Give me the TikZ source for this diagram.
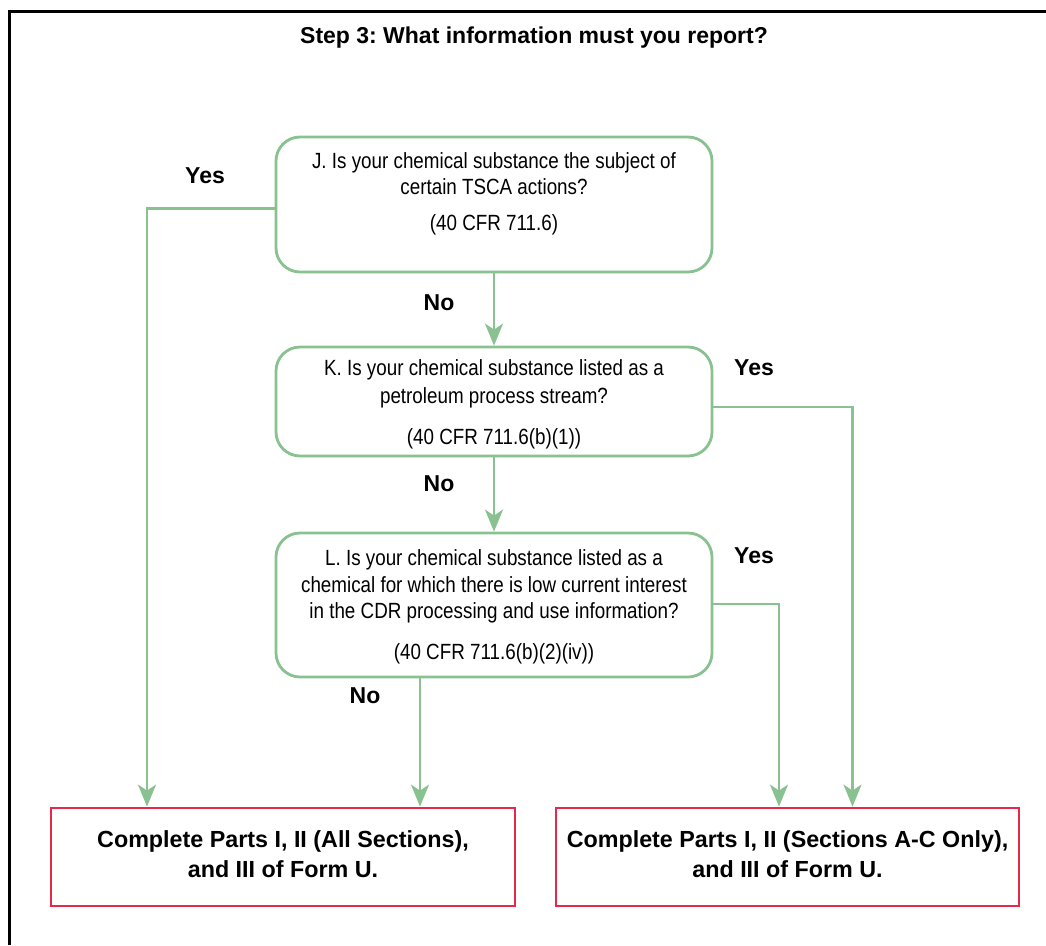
\documentclass[tikz,border=0pt]{standalone}
\usepackage{fontspec}
\setmainfont{Liberation Sans}
\newfontfamily\condfont[FakeStretch=0.855]{Liberation Sans}
\usetikzlibrary{arrows.meta}
\frenchspacing
\definecolor{qgreen}{RGB}{137,193,145}
\definecolor{ared}{RGB}{230,40,75}
\tikzset{
  qbox/.style={draw=qgreen, line width=2.8pt, rounded corners=24pt},
  abox/.style={draw=ared, line width=2.8pt},
  qtext/.style={anchor=base, inner sep=0pt, font=\condfont\fontsize{22}{26}\selectfont},
  atext/.style={anchor=base, inner sep=0pt, font=\bfseries\fontsize{23.3}{27}\selectfont},
  lbl/.style={anchor=base, inner sep=0pt, font=\bfseries\fontsize{23}{27}\selectfont},
  conn/.style={draw=qgreen, line width=2.6pt, -{Stealth[length=22pt,width=18pt,inset=6pt]}},
}
\begin{document}
\begin{tikzpicture}[x=1pt,y=-1pt]
\useasboundingbox (0,0) rectangle (1046,945);
% frame
\draw[line width=3pt] (9.5,945) -- (9.5,11) -- (1046,11);
% title
\node[anchor=base, inner sep=0pt, font=\bfseries\fontsize{23}{27}\selectfont] (title) at (534,43) {Step 3: What information must you report?};
% boxes
\node[qbox, minimum width=436pt, minimum height=135pt] (J) at (494,204.5) {};
\node[qbox, minimum width=436pt, minimum height=109pt] (K) at (494,401.5) {};
\node[qbox, minimum width=436pt, minimum height=144pt] (L) at (494,605) {};
\node[abox, minimum width=464pt, minimum height=98pt] (A) at (283,857) {};
\node[abox, minimum width=463pt, minimum height=98pt] (B) at (787.5,857) {};
% texts
\node[qtext] (j1) at (494,168) {J. Is your chemical substance the subject of};
\node[qtext] (j2) at (494,194) {certain TSCA actions?};
\node[qtext] (j3) at (494,230) {(40 CFR 711.6)};
\node[qtext] (k1) at (494,375) {K. Is your chemical substance listed as a};
\node[qtext] (k2) at (494,403) {petroleum process stream?};
\node[qtext] (k3) at (494,444) {(40 CFR 711.6(b)(1))};
\node[qtext] (l1) at (494,565) {L. Is your chemical substance listed as a};
\node[qtext] (l2) at (494,592) {chemical for which there is low current interest};
\node[qtext] (l3) at (494,618) {in the CDR processing and use information?};
\node[qtext] (l4) at (494,659) {(40 CFR 711.6(b)(2)(iv))};
\node[atext] (a1) at (283,847) {Complete Parts I, II (All Sections),};
\node[atext] (a2) at (283,877) {and III of Form U.};
\node[atext] (b1) at (787.5,847) {Complete Parts I, II (Sections A-C Only),};
\node[atext] (b2) at (787.5,877) {and III of Form U.};
% labels
\node[lbl] (y1) at (205,183) {Yes};
\node[lbl] (n1) at (439,310) {No};
\node[lbl] (y2) at (754,375) {Yes};
\node[lbl] (n2) at (439,491) {No};
\node[lbl] (y3) at (754,563) {Yes};
\node[lbl] (n3) at (365,703) {No};
% connectors
\coordinate (c1) at (147,208.5);
\coordinate (c2) at (852.5,407);
\coordinate (c3) at (779,604);
\coordinate (c4) at (420,0);
\draw[conn] (J.west |- c1) -- (c1) -- (c1 |- A.north);
\draw[conn] (J.south) -- (K.north);
\draw[conn] (K.east |- c2) -- (c2) -- (c2 |- B.north);
\draw[conn] (K.south) -- (L.north);
\draw[conn] (L.east |- c3) -- (c3) -- (c3 |- B.north);
\draw[conn] (L.south -| c4) -- (c4 |- A.north);
\end{tikzpicture}
\end{document}
